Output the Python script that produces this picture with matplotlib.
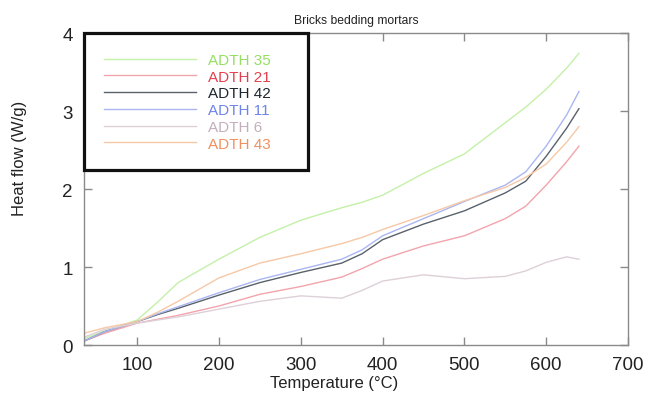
import matplotlib
matplotlib.use("Agg")
import matplotlib.pyplot as plt

plt.rcParams['font.family'] = ['Liberation Sans', 'DejaVu Sans']

# temperature grid (°C) and heat flow (W/g) per sample
temp = [35, 60, 100, 125, 150, 200, 250, 300, 350, 375, 400, 450, 500, 550, 575, 600, 625, 640]

adth35 = [0.08, 0.18, 0.32, 0.55, 0.80, 1.10, 1.38, 1.60, 1.76, 1.83, 1.92, 2.20, 2.45, 2.85, 3.05, 3.28, 3.55, 3.74]
adth21 = [0.05, 0.15, 0.28, 0.33, 0.38, 0.50, 0.65, 0.75, 0.87, 0.98, 1.10, 1.27, 1.40, 1.62, 1.78, 2.05, 2.35, 2.55]
adth42 = [0.05, 0.17, 0.30, 0.39, 0.47, 0.64, 0.80, 0.93, 1.05, 1.17, 1.35, 1.55, 1.72, 1.95, 2.10, 2.42, 2.78, 3.03]
adth11 = [0.05, 0.17, 0.30, 0.40, 0.49, 0.67, 0.84, 0.97, 1.10, 1.22, 1.40, 1.62, 1.84, 2.05, 2.22, 2.55, 2.95, 3.25]
adth6 = [0.10, 0.20, 0.28, 0.32, 0.36, 0.46, 0.56, 0.63, 0.60, 0.70, 0.82, 0.90, 0.85, 0.88, 0.95, 1.06, 1.13, 1.10]
adth43 = [0.15, 0.22, 0.30, 0.42, 0.56, 0.86, 1.05, 1.17, 1.30, 1.38, 1.48, 1.66, 1.85, 2.02, 2.15, 2.32, 2.60, 2.80]

labels = ["ADTH 35", "ADTH 21", "ADTH 42", "ADTH 11", "ADTH 6", "ADTH 43"]
series = [adth35, adth21, adth42, adth11, adth6, adth43]
line_colors = ["#c4f0a8", "#f2a4ac", "#59616a", "#aab6f2", "#ddd0d8", "#f6c8a6"]
text_colors = ["#94e060", "#e2404e", "#1c2630", "#6e84e8", "#c4aebc", "#f09060"]

fig = plt.figure(figsize=(6.52, 4.02), dpi=100)
ax = fig.add_axes([0.1288, 0.1393, 0.8344, 0.7761])

for y, lab, c in zip(series, labels, line_colors):
    ax.plot(temp, y, color=c, lw=1.0, label=lab)

ax.set_xlim(35, 700)
ax.set_ylim(0, 4)
ax.set_xticks([100, 200, 300, 400, 500, 600, 700])
ax.set_yticks([0, 1, 2, 3, 4])

for s in ax.spines.values():
    s.set_color("#8a8a8a")
    s.set_linewidth(1.0)
ax.tick_params(direction="in", length=6, width=1, color="#8a8a8a",
               top=True, right=True, labelsize=13.5, pad=8, labelcolor="#222222")

ax.set_xlabel("Temperature (°C)", fontsize=12, color="#222222", labelpad=3)
ax.xaxis.set_label_coords(0.46, -0.095)
ax.set_ylabel("Heat flow (W/g)", fontsize=12, color="#222222")
ax.yaxis.set_label_coords(-0.105, 0.6)
ax.set_title("Bricks bedding mortars", fontsize=8.7, color="#222222", pad=7)

leg = ax.legend(loc="upper left", bbox_to_anchor=(0, 0.5, 0.412, 0.5),
                mode="expand", borderaxespad=0, fontsize=11,
                handlelength=6.0, handletextpad=0.8, borderpad=1.3,
                labelspacing=0.18, fancybox=False, framealpha=1,
                labelcolor=text_colors)
leg.get_frame().set_edgecolor("#111111")
leg.get_frame().set_linewidth(2.3)

fig.savefig("out.png", dpi=100)
